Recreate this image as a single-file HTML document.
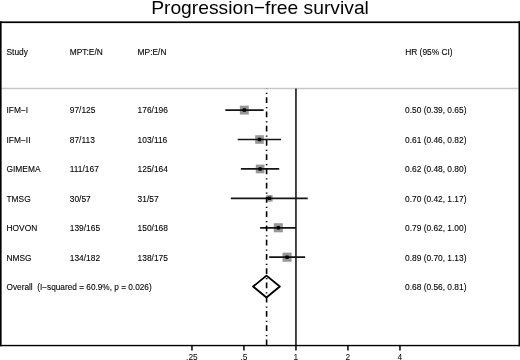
<!DOCTYPE html><html><head><meta charset="utf-8"><style>html,body{margin:0;padding:0;background:#fff;}svg{display:block;will-change:transform}text{font-family:"Liberation Sans",sans-serif;fill:#000}</style></head><body>
<svg width="520" height="360" viewBox="0 0 520 360">
<text transform="translate(260 13.95)" x="0" y="0" font-size="19.25" text-anchor="middle">Progression−free survival</text>
<g font-size="8.4" stroke="#000" stroke-width="0.1">
<text x="6.5" y="55.0">Study</text>
<text x="69.8" y="55.0">MPT:E/N</text>
<text x="137.6" y="55.0">MP:E/N</text>
<text x="405.2" y="55.0">HR (95% CI)</text>
<text x="6.5" y="113.40">IFM−I</text>
<text x="69.8" y="113.40">97/125</text>
<text x="137.6" y="113.40">176/196</text>
<text x="405.0" y="113.40">0.50 (0.39, 0.65)</text>
<text x="6.5" y="142.82">IFM−II</text>
<text x="69.8" y="142.82">87/113</text>
<text x="137.6" y="142.82">103/116</text>
<text x="405.0" y="142.82">0.61 (0.46, 0.82)</text>
<text x="6.5" y="172.24">GIMEMA</text>
<text x="69.8" y="172.24">111/167</text>
<text x="137.6" y="172.24">125/164</text>
<text x="405.0" y="172.24">0.62 (0.48, 0.80)</text>
<text x="6.5" y="201.66">TMSG</text>
<text x="69.8" y="201.66">30/57</text>
<text x="137.6" y="201.66">31/57</text>
<text x="405.0" y="201.66">0.70 (0.42, 1.17)</text>
<text x="6.5" y="231.08">HOVON</text>
<text x="69.8" y="231.08">139/165</text>
<text x="137.6" y="231.08">150/168</text>
<text x="405.0" y="231.08">0.79 (0.62, 1.00)</text>
<text x="6.5" y="260.50">NMSG</text>
<text x="69.8" y="260.50">134/182</text>
<text x="137.6" y="260.50">138/175</text>
<text x="405.0" y="260.50">0.89 (0.70, 1.13)</text>
<text x="6.5" y="289.92" font-size="8.26" xml:space="preserve">Overall  (I−squared = 60.9%, p = 0.026)</text>
<text x="405.0" y="289.92">0.68 (0.56, 0.81)</text>
</g>
<line x1="1.5" y1="88.5" x2="518" y2="88.5" stroke="#c6c6c6" stroke-width="1.3"/>
<line x1="295.95" y1="88.4" x2="295.95" y2="345" stroke="#333" stroke-width="1.8"/>
<rect x="239.85" y="105.65" width="8.9" height="8.9" fill="#979797"/>
<line x1="225.31" y1="110.10" x2="263.63" y2="110.10" stroke="#151515" stroke-width="1.7"/>
<rect x="242.55" y="108.35" width="3.5" height="3.5" rx="0.7" fill="#000"/>
<rect x="255.20" y="135.22" width="8.6" height="8.6" fill="#979797"/>
<line x1="237.69" y1="139.52" x2="281.06" y2="139.52" stroke="#151515" stroke-width="1.7"/>
<rect x="257.75" y="137.77" width="3.5" height="3.5" rx="0.7" fill="#000"/>
<rect x="255.75" y="164.59" width="8.7" height="8.7" fill="#979797"/>
<line x1="240.89" y1="168.94" x2="279.21" y2="168.94" stroke="#151515" stroke-width="1.7"/>
<rect x="258.35" y="167.19" width="3.5" height="3.5" rx="0.7" fill="#000"/>
<rect x="266.00" y="195.06" width="6.6" height="6.6" fill="#979797"/>
<line x1="230.87" y1="198.36" x2="307.73" y2="198.36" stroke="#151515" stroke-width="1.7"/>
<rect x="267.55" y="196.61" width="3.5" height="3.5" rx="0.7" fill="#000"/>
<rect x="273.75" y="223.23" width="9.1" height="9.1" fill="#979797"/>
<line x1="260.09" y1="227.78" x2="295.95" y2="227.78" stroke="#151515" stroke-width="1.7"/>
<rect x="276.55" y="226.03" width="3.5" height="3.5" rx="0.7" fill="#000"/>
<rect x="282.55" y="252.65" width="9.1" height="9.1" fill="#979797"/>
<line x1="269.19" y1="257.20" x2="305.12" y2="257.20" stroke="#151515" stroke-width="1.7"/>
<rect x="285.35" y="255.45" width="3.5" height="3.5" rx="0.7" fill="#000"/>
<line x1="266.6" y1="88.4" x2="266.6" y2="345" stroke="#000" stroke-width="1.6" stroke-dasharray="5.6 4.1 1.3 3.25" stroke-dashoffset="5.35"/>
<polygon points="253.10,286.60 266.45,275.63 279.80,286.60 266.45,297.57" fill="none" stroke="#000" stroke-width="1.9" stroke-linejoin="round"/>
<rect x="0" y="21.4" width="520" height="1.7" fill="#000"/>
<rect x="0" y="21.4" width="1.6" height="324.85" fill="#000"/>
<rect x="518.5" y="21.4" width="1.5" height="324.85" fill="#000"/>
<rect x="0" y="344.85" width="520" height="1.4" fill="#000"/>
<line x1="191.95" y1="345" x2="191.95" y2="350.6" stroke="#000" stroke-width="1.5"/>
<text x="191.95" y="359.8" font-size="8.4" text-anchor="middle">.25</text>
<line x1="243.95" y1="345" x2="243.95" y2="350.6" stroke="#000" stroke-width="1.5"/>
<text x="243.95" y="359.8" font-size="8.4" text-anchor="middle">.5</text>
<line x1="295.95" y1="345" x2="295.95" y2="350.6" stroke="#000" stroke-width="1.5"/>
<text x="295.95" y="359.8" font-size="8.4" text-anchor="middle">1</text>
<line x1="347.95" y1="345" x2="347.95" y2="350.6" stroke="#000" stroke-width="1.5"/>
<text x="347.95" y="359.8" font-size="8.4" text-anchor="middle">2</text>
<line x1="399.95" y1="345" x2="399.95" y2="350.6" stroke="#000" stroke-width="1.5"/>
<text x="399.95" y="359.8" font-size="8.4" text-anchor="middle">4</text>
</svg></body></html>
